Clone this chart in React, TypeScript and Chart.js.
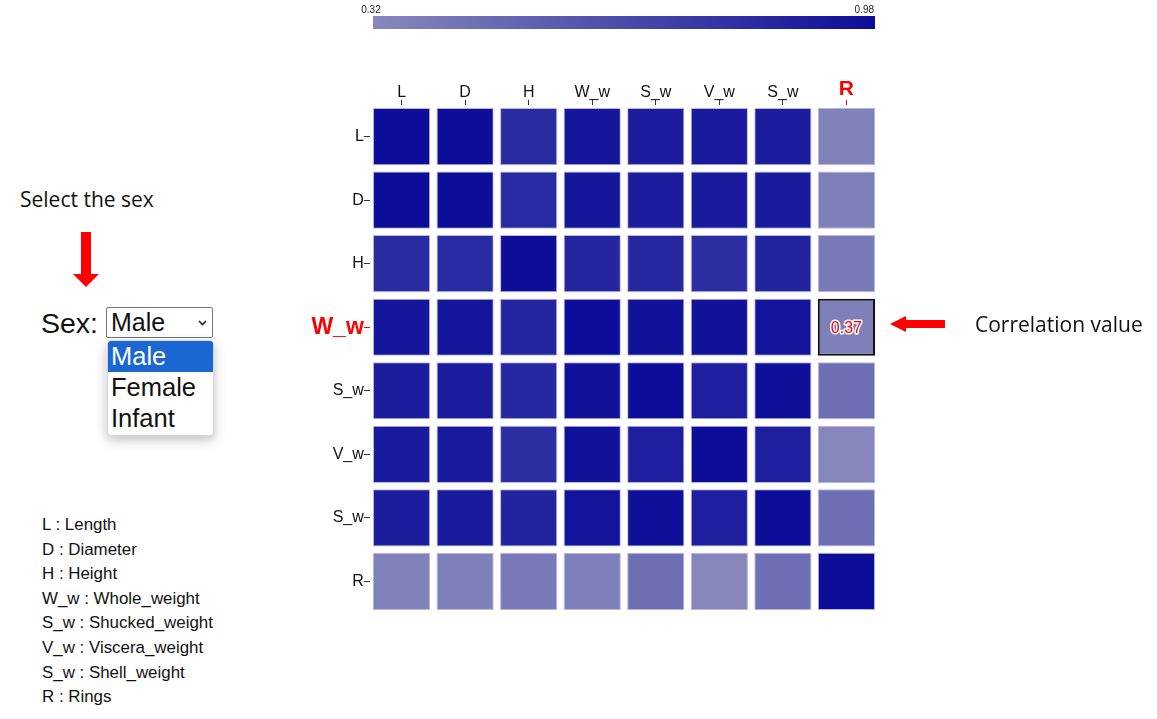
import React, { useEffect, useRef } from "react";
import { Chart, registerables } from "chart.js";

Chart.register(...registerables);

// ---- data ----
const labels = ["L", "D", "H", "W_w", "S_w", "V_w", "S_w", "R"];
const rowL = [1.0, 0.98, 0.82, 0.93, 0.9, 0.91, 0.9, 0.35];
const rowD = [0.98, 1.0, 0.83, 0.93, 0.9, 0.91, 0.91, 0.37];
const rowH = [0.82, 0.83, 1.0, 0.85, 0.84, 0.81, 0.86, 0.4];
const rowWw = [0.93, 0.93, 0.85, 1.0, 0.96, 0.96, 0.95, 0.37];
const rowSw = [0.9, 0.9, 0.84, 0.96, 1.0, 0.89, 0.97, 0.46];
const rowVw = [0.91, 0.91, 0.81, 0.96, 0.89, 1.0, 0.89, 0.33];
const rowShw = [0.9, 0.91, 0.86, 0.95, 0.97, 0.89, 1.0, 0.46];
const rowR = [0.35, 0.37, 0.4, 0.37, 0.46, 0.33, 0.46, 1.0];
const rows = [rowL, rowD, rowH, rowWw, rowSw, rowVw, rowShw, rowR];
const scaleMin = 0.32;
const scaleMax = 0.98;
const scaleTickLabels = ["0.32", "0.98"];
const highlightRow = 3;
const highlightCol = 7;
const sexOptions = ["Male", "Female", "Infant"];
const legendLines = [
  "L : Length",
  "D : Diameter",
  "H : Height",
  "W_w : Whole_weight",
  "S_w : Shucked_weight",
  "V_w : Viscera_weight",
  "S_w : Shell_weight",
  "R : Rings",
];

const LIGHT = [136, 136, 188];
const DARK = [13, 13, 153];
const ARIAL = "'Liberation Sans', Arial, sans-serif";
const SEGOE = "'Open Sans', 'Noto Sans', sans-serif";

function colorFor(v: number) {
  let t = (v - scaleMin) / (scaleMax - scaleMin);
  t = Math.max(0, Math.min(1, t));
  const c = LIGHT.map((l, i) => Math.round(l + (DARK[i] - l) * t));
  return `rgb(${c[0]},${c[1]},${c[2]})`;
}

const colorBarPlugin = {
  id: "colorBar",
  afterDraw(chart: any) {
    const { ctx, chartArea } = chart;
    const step = chartArea.width / labels.length;
    const x0 = chartArea.left + step * 0.05;
    const x1 = chartArea.right - step * 0.05;
    const y0 = 16;
    const h = 13;
    const g = ctx.createLinearGradient(x0, 0, x1, 0);
    g.addColorStop(0, colorFor(scaleMin));
    g.addColorStop(1, colorFor(scaleMax));
    ctx.save();
    ctx.fillStyle = g;
    ctx.fillRect(x0, y0, x1 - x0, h);
    ctx.fillStyle = "#222";
    ctx.font = `10px ${ARIAL}`;
    ctx.textBaseline = "alphabetic";
    ctx.textAlign = "center";
    ctx.fillText(scaleTickLabels[0], x0 - 2, 13);
    ctx.textAlign = "right";
    ctx.fillText(scaleTickLabels[1], x1 - 1, 13);
    ctx.restore();
  },
};

const cellLabelPlugin = {
  id: "cellLabel",
  afterDatasetsDraw(chart: any) {
    const meta = chart.getDatasetMeta(highlightRow);
    const el = meta.data[highlightCol];
    if (!el) return;
    const { ctx } = chart;
    const props = el.getProps(["x", "y", "base"], true);
    const cy = (props.y + props.base) / 2;
    const txt = rows[highlightRow][highlightCol].toFixed(2);
    ctx.save();
    ctx.font = `16px ${ARIAL}`;
    ctx.textAlign = "center";
    ctx.textBaseline = "middle";
    ctx.lineWidth = 3;
    ctx.strokeStyle = "#ffffff";
    ctx.lineJoin = "round";
    ctx.strokeText(txt, props.x, cy + 1);
    ctx.fillStyle = "#ff0000";
    ctx.fillText(txt, props.x, cy + 1);
    ctx.restore();
  },
};

function Heatmap() {
  const ref = useRef<HTMLCanvasElement>(null);
  useEffect(() => {
    if (!ref.current) return;
    const datasets = rows.map((vals, r) => ({
      label: labels[r],
      data: vals.map(() => [r - 0.45, r + 0.45]),
      backgroundColor: vals.map(colorFor),
      borderColor: vals.map((_, c) =>
        r === highlightRow && c === highlightCol ? "#111111" : "#b6b6e6"
      ),
      borderWidth: vals.map((_, c) => (r === highlightRow && c === highlightCol ? 2 : 1)),
      borderSkipped: false,
      grouped: false,
      categoryPercentage: 1,
      barPercentage: 0.9,
    }));
    const chart = new Chart(ref.current, {
      type: "bar",
      data: { labels, datasets } as any,
      plugins: [colorBarPlugin, cellLabelPlugin],
      options: {
        animation: false,
        responsive: false,
        maintainAspectRatio: false,
        layout: { padding: { left: 0, right: 21.8, top: 0, bottom: 26.8 } },
        plugins: { legend: { display: false }, tooltip: { enabled: false } },
        scales: {
          x: {
            type: "category",
            position: "top",
            offset: true,
            afterFit: (s: any) => {
              s.height = 104.8;
            },
            ticks: {
              autoSkip: false,
              maxRotation: 0,
              padding: -2,
              font: (c: any) =>
                c.index === 7
                  ? { family: ARIAL, size: 21, weight: "bold" }
                  : { family: ARIAL, size: 16 },
              color: (c: any) => (c.index === 7 ? "#ff0000" : "#111111"),
            },
            grid: {
              offset: false,
              drawOnChartArea: false,
              drawTicks: true,
              tickLength: 5,
              tickColor: (c: any) => (c.index === 7 ? "#ff0000" : "#333333"),
            },
            border: { display: false },
          },
          y: {
            type: "linear",
            reverse: true,
            min: -0.5,
            max: 7.5,
            afterBuildTicks: (s: any) => {
              s.ticks = labels.map((_, i) => ({ value: i }));
            },
            afterFit: (s: any) => {
              s.width = 79.8;
            },
            ticks: {
              autoSkip: false,
              padding: 0,
              callback: (_v: any, i: number) => labels[i],
              font: (c: any) =>
                c.index === 3
                  ? { family: ARIAL, size: 23, weight: "bold" }
                  : { family: ARIAL, size: 16 },
              color: (c: any) => (c.index === 3 ? "#ff0000" : "#111111"),
            },
            grid: {
              drawOnChartArea: false,
              drawTicks: true,
              tickLength: 6,
              tickColor: (c: any) => (c.index === 3 ? "#ff0000" : "#333333"),
            },
            border: { display: false },
          },
        },
      } as any,
    });
    return () => chart.destroy();
  }, []);
  return (
    <canvas
      ref={ref}
      width={610}
      height={640}
      style={{ position: "absolute", left: 290, top: 0, width: 610, height: 640 }}
    />
  );
}

export default function App() {
  return (
    <div
      style={{
        position: "absolute",
        left: 0,
        top: 0,
        width: 1157,
        height: 719,
        background: "#ffffff",
        overflow: "hidden",
      }}
    >
      <div
        style={{
          position: "absolute",
          left: 20,
          top: 185,
          fontFamily: SEGOE,
          fontSize: 21,
          color: "#111",
          lineHeight: "28px",
          whiteSpace: "nowrap",
        }}
      >
        Select the sex
      </div>
      <svg style={{ position: "absolute", left: 70, top: 230 }} width={36} height={60}>
        <rect x={11} y={2} width={10} height={42} fill="#ff0000" />
        <polygon points="3,44 29,44 16,57" fill="#ff0000" />
      </svg>
      <div
        style={{
          position: "absolute",
          left: 41,
          top: 306,
          fontFamily: ARIAL,
          fontSize: 28.5,
          lineHeight: "34px",
          color: "#111",
        }}
      >
        Sex:
      </div>
      <div
        style={{
          position: "absolute",
          left: 106,
          top: 307,
          width: 101,
          height: 29,
          border: "1px solid #767676",
          borderRadius: 2,
          fontFamily: ARIAL,
          fontSize: 25,
          lineHeight: "29px",
          color: "#111",
          paddingLeft: 4,
          boxSizing: "content-box",
        }}
      >
        {sexOptions[0]}
        <svg style={{ position: "absolute", right: 5, top: 12 }} width={9} height={6}>
          <polyline points="1,1 4.5,4.5 8,1" fill="none" stroke="#222" strokeWidth={1.6} />
        </svg>
      </div>
      <div
        style={{
          position: "absolute",
          left: 107,
          top: 340,
          width: 105,
          height: 94,
          background: "#fff",
          border: "1px solid #d8d8d8",
          borderRadius: 4,
          boxShadow: "0 4px 12px rgba(0,0,0,0.25)",
          overflow: "hidden",
          fontFamily: ARIAL,
          fontSize: 25.5,
          color: "#111",
        }}
      >
        {sexOptions.map((o, i) => (
          <div
            key={o}
            style={{
              height: 31,
              lineHeight: "31px",
              paddingLeft: 3,
              background: i === 0 ? "#1a67d2" : "transparent",
              color: i === 0 ? "#fff" : "#111",
            }}
          >
            {o}
          </div>
        ))}
      </div>
      <div
        style={{
          position: "absolute",
          left: 42,
          top: 513,
          fontFamily: ARIAL,
          fontSize: 16.9,
          color: "#111",
          lineHeight: "24.6px",
          whiteSpace: "nowrap",
        }}
      >
        {legendLines.map((l, i) => (
          <div key={i}>{l}</div>
        ))}
      </div>
      <Heatmap />
      <svg style={{ position: "absolute", left: 888, top: 312 }} width={60} height={24}>
        <polygon points="2,12 18,4 18,8 57,8 57,16 18,16 18,20" fill="#ff0000" />
      </svg>
      <div
        style={{
          position: "absolute",
          left: 975,
          top: 310,
          fontFamily: SEGOE,
          fontSize: 21,
          color: "#111",
          lineHeight: "28px",
          whiteSpace: "nowrap",
        }}
      >
        Correlation value
      </div>
    </div>
  );
}
